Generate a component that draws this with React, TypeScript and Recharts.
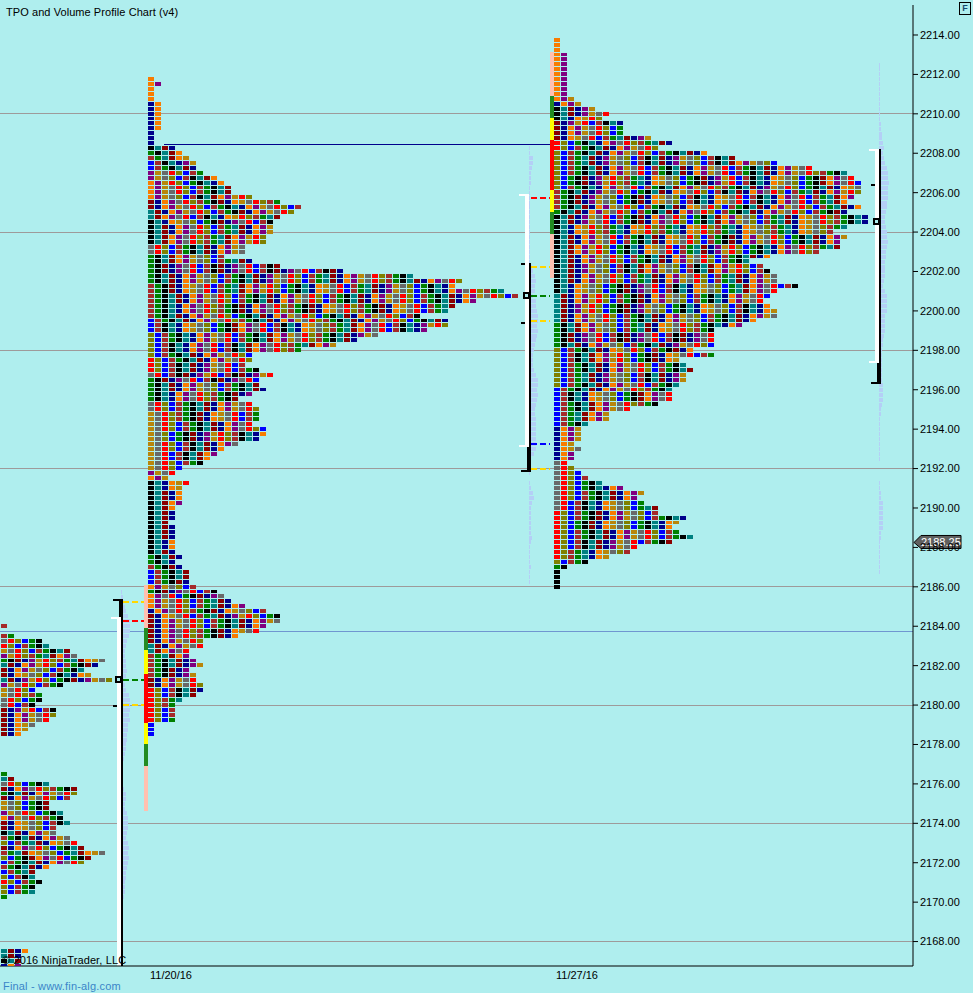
import React from "react";
import { ScatterChart, Scatter, XAxis, YAxis, CartesianGrid, ReferenceArea, ReferenceLine, ReferenceDot } from "recharts";

const BG = "#afeeee";
const FONT = "'Liberation Sans', Arial, sans-serif";
const TAIL = 2166.76;

const priceTicks = [2168,2170,2172,2174,2176,2178,2180,2182,2184,2186,2188,2190,2192,2194,2196,2198,2200,2202,2204,2206,2208,2210,2212,2214];
const gridPrices = [2168,2174,2180,2186,2192,2198,2204,2210];
const dateTicks = [171, 577];
const dateLabels = ["11/20/16", "11/27/16"];
const lastPrice = 2188.25;

const palette: Record<string,string> = { o:"#f87c00", p:"#800080", g:"#b8860b", y:"#696969", r:"#ff0000", l:"#808000", b:"#0000ff", w:"#a52a2a", n:"#008000", k:"#000000", t:"#008080", d:"#8b0000", v:"#00008b" };
const periodCycle = ["o","p","g","y","r","l","b","w","n","k","t","d","v"];
const skipRates = [0,0.31,0.08,0.54,0.17,0.42,0.05,0.25,0.62,0.12,0.36];

// Row lengths (TPO counts), top row first
const week0aTop = 2184;
const week0aRows = [1,0,2,6,7,10,11,15,14,12,13,16,9,5,6,6,5,8,8,7,5,4,3];
const week0aLead = "wwwyrgpntddtpggyydddddd".split("");
const week0bTop = 2176.5;
const week0bRows = [1,2,7,11,11,10,7,7,9,9,10,8,8,10,11,12,15,13,12,7,5,5,6,5,5,1];
const week0bLead = "ntydndggpoddkwldwlbwblrlln".split("");
const week0cTop = 2167.5;
const week0cRows = [4,3,3,3];
const week0cLead = "ttkv".split("");

const week1Top = 2211.75;
const week1Rows = [1,2,1,1,1,2,2,2,2,2,2,1,1,1,4,5,6,7,7,8,10,11,12,12,15,19,22,21,19,18,18,18,17,17,14,14,11,15,19,28,38,45,44,51,53,47,44,43,39,43,43,40,33,30,27,22,15,15,14,16,18,16,16,17,15,13,15,16,16,16,15,17,17,16,13,11,10,9,8,5,4,3,6,5,5,5,5,4,4,4,3,4,4,4,4,4,4,5,4,5,6,6,6,7,10,11,12,14,17,19,19,17,16,13,8,8,6,6,7,8,6,7,7,8,8,7,5,4,4,4,4,1,1,1];
const week1Lead = "ooooovvvvvvvvvknwbbppooooddttkkkkkyynnnnnnwwwwwwwbbblllllrrrynnnnnyyggggggggggggpokkkkkkkkkkkkkkknnwbbbonooovddddddttwwwwwddrrrrrrrbbb".split("");

const week2Top = 2213.75;
const week2Rows = [1,1,1,2,2,2,2,2,2,2,2,2,3,4,6,8,7,10,10,10,14,17,15,22,26,32,37,42,43,44,44,44,43,42,44,42,45,45,42,40,42,41,41,38,31,28,30,31,32,32,35,32,31,30,31,32,32,29,27,23,23,23,23,20,23,18,19,20,19,19,18,17,17,17,15,11,8,8,5,4,4,4,3,4,3,3,2,3,4,5,7,10,13,12,13,15,15,19,18,17,18,20,17,12,11,8,5,2,1,1,1,1];
const week2Lead = "ooooooooooooovkkkddddrrllllllllwwwwnkkkkkkkkkkkkkkkkttttttnnnnnllllllllbbbbbbbbvvvvvvvyyyyyyyyyyrrrrrrrrrrlnkkkk".split("");

// Volume profile widths, top row first
const vol0Top = 2185.75;
const vol0 = [1,2,3,4,5,7,9,9,9,8,6,5,4,4,5,5,6,5,3,4,5,8,9,9,9,8,9,7,7,6,6,5,5,4,3,1,1,1,1,1,3,5,5,4,4,6,7,7,7,6,5,7,8,7,8,7,6,5,5,4,4,4,3,2,2,2,2,2,2,2,2,2,2,2,2];
const vol1Top = 2208.25;
const vol1 = [1,1,4,4,3,2,2,2,1,1,1,1,1,1,1,1,1,1,1,1,1,1,1,1,3,4,6,7,6,6,4,7,7,8,9,9,8,9,8,7,6,5,4,4,4,5,7,9,9,8,9,8,7,6,6,7,7,7,7,7,7,7,5,1,0,0,1,0,1,2,4,5,3,2,2,2,2,2,2,3,2,1,1,1,1,2,1,1,1];
const vol2Top = 2212.5;
const vol2 = [1,1,1,1,1,1,1,1,1,1,1,1,2,2,3,3,4,5,4,5,6,8,9,9,10,9,9,9,8,8,7,6,6,7,8,8,9,8,7,7,6,6,6,6,5,4,6,8,8,8,8,6,6,6,6,5,4,4,3,3,3,3,3,3,3,4,4,4,4,3,2,2,1,1,1,1,1,1,1,1,1,0,0,0,0,1,1,2,2,4,4,4,4,4,4,2,2,1,1,1,1,1,1,1];

// Period strips: price boundaries, top first, with the colour of each span
const stripColors = ["#ffc0b0","#228b22","#ffff00","#ff0000","#ffff00","#228b22","#ffc0b0"];
const strip1 = [2186.1,2183.9,2182.8,2181.6,2179.1,2178.0,2176.9,2174.6];
const strip2 = [2213.14,2210.9,2209.79,2208.67,2206.13,2205.02,2203.9,2201.67];

// Value-area brackets
const bracket0 = { blackTop:2185.4, blackBottom:TAIL, whiteTop:2184.45, whiteBottom:TAIL, poc:2181.28, ticks:[2179.93] };
const bracket1 = { blackTop:2202.43, blackBottom:2191.93, whiteTop:2205.93, whiteBottom:2193.09, poc:2200.78, ticks:[2202.38,2199.39] };
const bracket2 = { blackTop:2208.22, blackBottom:2196.39, whiteTop:2208.22, whiteBottom:2197.36, poc:2204.54, ticks:[2206.39] };

// Opening-range and value markers: price, colour
const dashes0: [number,string][] = [[2185.25,"#ffd700"],[2184.25,"#ff0000"],[2181.25,"#008000"],[2180,"#ffd700"]];
const dashes1: [number,string][] = [[2205.75,"#ff0000"],[2202.25,"#ffd700"],[2200.75,"#008000"],[2199.5,"#ffd700"],[2193.25,"#0000ff"],[2192,"#ffd700"]];
const nakedPoc = 2208.44;
const levelLine = 2183.75;

const STEP = 0.25;
const PITCH = 7;

type Cell = { x:number; y:number; fill:string };

function buildCells(rows:number[], lead:string[], top:number, origin:number):Cell[] {
  const out:Cell[] = [];
  rows.forEach((count, r) => {
    const start = periodCycle.indexOf(lead[r] ?? "k");
    const rate = skipRates[(r >> 1) % skipRates.length];
    for (let c = 0; c < count; c++) {
      const idx = (start + c + Math.floor(c * rate)) % periodCycle.length;
      out.push({ x: origin + c * PITCH, y: top - r * STEP, fill: palette[periodCycle[idx]] });
    }
  });
  return out;
}

const cells = [
  ...buildCells(week0aRows, week0aLead, week0aTop, 1),
  ...buildCells(week0bRows, week0bLead, week0bTop, 1),
  ...buildCells(week0cRows, week0cLead, week0cTop, 1),
  ...buildCells(week1Rows, week1Lead, week1Top, 148),
  ...buildCells(week2Rows, week2Lead, week2Top, 554),
];

const PX = 19.707;

const Block = (p:any) => {
  const top = Math.round(p.cy - 2.2);
  const bottom = Math.round(p.cy + 4.927 - 2.2) - 1;
  return <rect x={Math.round(p.cx)} y={top} width={6} height={bottom - top} fill={p.payload.fill} shapeRendering="crispEdges" />;
};

let k = 0;
const area = (x1:number, x2:number, y1:number, y2:number, fill:string) => (
  <ReferenceArea key={"a" + k++} x1={x1} x2={x2} y1={y1} y2={y2} fill={fill} fillOpacity={1} stroke="none" ifOverflow="hidden" shapeRendering="crispEdges" />
);

const volBars = (vals:number[], top:number, base:number) =>
  vals.map((v, i) => v > 0 ? area(base, base + v, top - i * STEP - 2 / PX, top - i * STEP + 2 / PX, "#b4cff6") : null);

const strip = (bounds:number[], x:number) =>
  stripColors.map((c, i) => area(x, x + 4, bounds[i + 1], bounds[i], c));

function bracket(b:any, a:number) {
  const t = 1 / PX;
  const parts:any[] = [];
  parts.push(area(a - 6, a - 2, b.whiteBottom, b.whiteTop, "#ffffff"));
  parts.push(area(a - 12, a - 6, b.whiteTop - 2 * t, b.whiteTop, "#ffffff"));
  if (b.whiteBottom > TAIL) parts.push(area(a - 12, a - 6, b.whiteBottom, b.whiteBottom + 2 * t, "#ffffff"));
  parts.push(area(a - 2, a, b.blackBottom, b.blackTop, "#000000"));
  if (b.blackTop > b.whiteTop) {
    parts.push(area(a - 4, a, b.whiteTop, b.blackTop, "#000000"));
    parts.push(area(a - 10, a - 4, b.blackTop - 2 * t, b.blackTop, "#000000"));
  }
  if (b.blackBottom < b.whiteBottom) {
    parts.push(area(a - 4, a, b.blackBottom, b.whiteBottom, "#000000"));
    parts.push(area(a - 10, a, b.blackBottom - 2 * t, b.blackBottom, "#000000"));
  }
  b.ticks.forEach((p:number) => parts.push(area(a - 10, a - 6, p - t, p + t, "#000000")));
  parts.push(area(a - 8, a - 1, b.poc - 3.5 * t, b.poc + 3.5 * t, "#000000"));
  parts.push(area(a - 6, a - 3, b.poc - 1.5 * t, b.poc + 1.5 * t, BG));
  return parts;
}

const dashed = (items:[number,string][], x1:number, x2:number) =>
  items.map(([p, c]) => (
    <ReferenceLine key={"d" + k++} segment={[{ x: x1, y: p }, { x: x2, y: p }]} stroke={c} strokeWidth={2} strokeDasharray="6 3" shapeRendering="crispEdges" />
  ));

const PriceTag = (p:any) => (
  <g>
    <polygon points={`${p.cx + 1},${p.cy} ${p.cx + 8},${p.cy - 7} ${p.cx + 48},${p.cy - 7} ${p.cx + 48},${p.cy + 6} ${p.cx + 8},${p.cy + 6}`} fill="#606060" stroke="#000" strokeWidth={1} />
    <text x={p.cx + 8} y={p.cy + 3.5} fill="#fff" fontSize={11} fontFamily={FONT}>{lastPrice.toFixed(2)}</text>
  </g>
);

const overlay = (left:number, top:number, text:string, color = "#000", spacing = 0.07): any => (
  <div style={{ position:"absolute", left, top, font:`11px ${FONT}`, color, whiteSpace:"nowrap", letterSpacing:spacing }}>{text}</div>
);

export default function App() {
  return (
    <div style={{ position:"absolute", left:0, top:0, width:973, height:993, background:BG, overflow:"hidden" }}>
      <ScatterChart width={973} height={993} margin={{ top:5, right:0, bottom:0, left:0 }}>
        <CartesianGrid horizontal vertical={false} horizontalValues={gridPrices} stroke="#9e9a9a" strokeWidth={1} shapeRendering="crispEdges" />
        <XAxis type="number" dataKey="x" domain={[0,913]} allowDataOverflow ticks={dateTicks} height={27} interval={0}
          tickFormatter={(v:number) => dateLabels[dateTicks.indexOf(v)]} tickLine={false} tickMargin={-1}
          axisLine={{ stroke:"#000" }} tick={{ fill:"#000", fontSize:11, fontFamily:FONT }} />
        <YAxis type="number" dataKey="y" orientation="right" domain={[TAIL,2215.522]} allowDataOverflow ticks={priceTicks} width={60} interval={0}
          tickFormatter={(v:number) => v.toFixed(2)} tickSize={5} tickMargin={2}
          axisLine={{ stroke:"#000" }} tickLine={{ stroke:"#000" }} tick={{ fill:"#000", fontSize:11, fontFamily:FONT, textAnchor:"start" }} />
        {area(0, 913, levelLine - 0.5 / PX, levelLine + 0.5 / PX, "#7096d0")}
        {area(164, 553, nakedPoc - 0.5 / PX, nakedPoc + 0.5 / PX, "#00008b")}
        {volBars(vol0, vol0Top, 121)}
        {volBars(vol1, vol1Top, 529)}
        {volBars(vol2, vol2Top, 879)}
        {strip(strip1, 144)}
        {strip(strip2, 550)}
        {bracket(bracket0, 123)}
        {bracket(bracket1, 531)}
        {bracket(bracket2, 881)}
        {dashed(dashes0, 123, 144)}
        {dashed(dashes1, 531, 550)}
        <Scatter data={cells} isAnimationActive={false} shape={Block} />
        <ReferenceDot x={913} y={lastPrice} r={0} ifOverflow="visible" shape={PriceTag} />
      </ScatterChart>
      {overlay(6, 6, "TPO and Volume Profile Chart (v4)")}
      {overlay(2, 954, "© 2016 NinjaTrader, LLC", "#000", 0.12)}
      {overlay(3, 980, "Final - www.fin-alg.com", "#3a85c8", 0.18)}
      <div style={{ position:"absolute", left:959, top:2, width:10, height:11, border:"1px solid #000", font:`bold 9px ${FONT}`, textAlign:"center", lineHeight:"11px", color:"#1a4a70" }}>F</div>
    </div>
  );
}
